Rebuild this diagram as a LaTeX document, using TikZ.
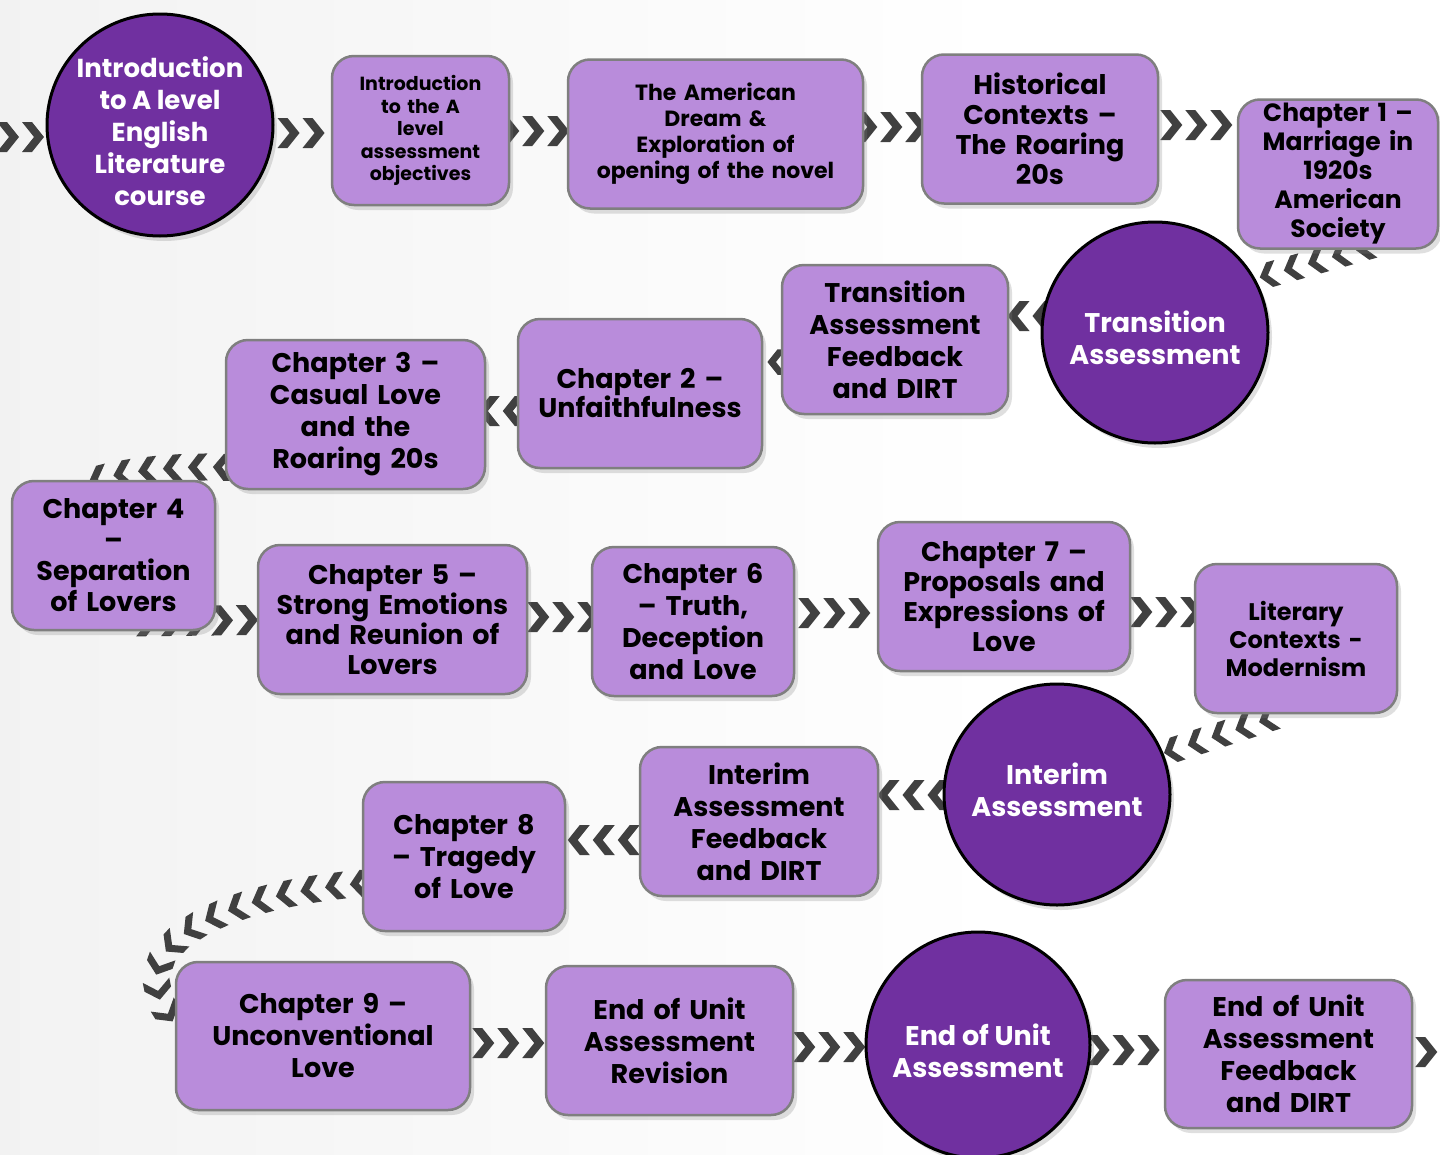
\documentclass[tikz,border=0pt]{standalone}
\usepackage{fontspec}
\setmainfont{Poppins}
\usetikzlibrary{shapes.geometric,shadows,decorations.markings,calc}
\definecolor{boxfill}{HTML}{B98CDB}
\definecolor{boxline}{HTML}{7F7F7F}
\definecolor{circfill}{HTML}{7030A0}
\definecolor{chevcol}{HTML}{404040}
\pgfdeclarelayer{bg}
\pgfsetlayers{bg,main}
\newcommand\fsz[2]{\fontsize{#1}{#2}\selectfont}
\begin{document}
\begin{tikzpicture}[x=1pt,y=-1pt,
  box/.style={draw=boxline, line width=2.5pt, fill=boxfill, rounded corners=22pt,
    inner sep=0pt, align=center, minimum height=149pt, font=\bfseries\fsz{27}{32},
    drop shadow={shadow xshift=4pt, shadow yshift=-5pt, opacity=0.25}},
  circ/.style={ellipse, draw=black, line width=3pt, fill=circfill,
    inner sep=0pt, minimum width=226pt, minimum height=222pt,
    drop shadow={shadow xshift=4pt, shadow yshift=-5pt, opacity=0.25}},
  ctext/.style={text=white, align=center, inner sep=0pt, font=\bfseries\fsz{27}{32}},
  chevrow/.style={decorate, decoration={markings,
    mark=between positions 0 and 1 step 25pt with {
      \fill[chevcol, scale=#1] (-11,-15) -- (-1,-15) -- (11,0) -- (-1,15) -- (-11,15) -- (1,0) -- cycle;}}},
  chevrow/.default=1
]
\useasboundingbox (0,0) rectangle (1440,1154);

% nodes
\node[circ, label={[ctext, yshift=-6pt, font=\bfseries\fsz{26}{32}]center:Introduction\\to A level\\English\\Literature\\course}] (c1) at (160,125) {};
\node[box, minimum width=177pt, text width=165pt, font=\bfseries\fsz{19}{22.5}] (b1) at (420.5,130.5) {Introduction\\to the A\\level\\assessment\\objectives};
\node[box, minimum width=295pt, text width=283pt, font=\bfseries\fsz{22}{26}] (b2) at (715.5,134) {The American\\Dream \&\\Exploration of\\opening of the novel};
\node[box, minimum width=236pt, text width=224pt, font=\bfseries\fsz{27}{30}] (b3) at (1040,129) {Historical\\Contexts --\\The Roaring\\20s};
\node[box, minimum width=200pt, text width=190pt, font=\bfseries\fsz{25}{29}] (b4) at (1338,174) {Chapter 1 --\\Marriage in\\1920s\\American\\Society};
\node[circ, minimum height=221pt, label={[ctext, yshift=-5pt]center:Transition\\Assessment}] (c2) at (1155,332.5) {};
\node[box, minimum width=226pt, text width=216pt] (b5) at (895,339.5) {Transition\\Assessment\\Feedback\\and DIRT};
\node[box, minimum width=244pt, text width=234pt, font=\bfseries\fsz{27}{29}] (b6) at (640,393.5) {Chapter 2 --\\Unfaithfulness};
\node[box, minimum width=259pt, text width=249pt] (b7) at (355.5,414.5) {Chapter 3 --\\Casual Love\\and the\\Roaring 20s};
\node[box, minimum width=203pt, text width=193pt, font=\bfseries\fsz{27}{31}] (b8) at (113.5,555.5) {Chapter 4\\--\\Separation\\of Lovers};
\node[box, minimum width=269pt, text width=259pt, font=\bfseries\fsz{27}{30}] (b9) at (392.5,619.5) {Chapter 5 --\\Strong Emotions\\and Reunion of\\Lovers};
\node[box, minimum width=202pt, text width=192pt] (b10) at (693,621.5) {Chapter 6\\-- Truth,\\Deception\\and Love};
\node[box, minimum width=252pt, text width=242pt, font=\bfseries\fsz{27}{30}] (b11) at (1004,596.5) {Chapter 7 --\\Proposals and\\Expressions of\\Love};
\node[box, minimum width=202pt, text width=192pt, font=\bfseries\fsz{24}{28}] (b12) at (1296,638.5) {Literary\\Contexts -\\Modernism};
\node[circ, minimum height=221pt, label={[ctext, yshift=5pt]center:Interim\\Assessment}] (c3) at (1057,794.5) {};
\node[box, minimum width=238pt, text width=228pt] (b13) at (759,821.5) {Interim\\Assessment\\Feedback\\and DIRT};
\node[box, minimum width=202pt, text width=192pt] (b14) at (464,856.5) {Chapter 8\\-- Tragedy\\of Love};
\node[box, minimum width=294pt, text width=284pt, minimum height=148pt] (b15) at (323,1036) {Chapter 9 --\\Unconventional\\Love};
\node[box, minimum width=247pt, text width=237pt] (b16) at (669.5,1040.5) {End of Unit\\Assessment\\Revision};
\node[circ, minimum width=224pt, minimum height=226pt, label={[ctext, yshift=-6pt]center:End of Unit\\Assessment}] (c4) at (978,1045) {};
\node[box, minimum width=247pt, text width=237pt, minimum height=148pt] (b17) at (1288.5,1054) {End of Unit\\Assessment\\Feedback\\and DIRT};

\coordinate (in0) at (8,137);
\coordinate (out0) at (1450,1052);

\begin{pgfonlayer}{bg}
\shade[left color=gray!10, right color=white] (0,0) rectangle (1000,1154);
\fill[white] (1000,0) rectangle (1440,1154);
% chevron connectors
\path[chevrow] (in0) -- (c1.west |- in0);
\path[chevrow] ([shift={(-11,8)}]c1.east) -- ([shift={(0,2.5)}]b1.west);
\path[chevrow] ([shift={(-2,0.5)}]b1.east) -- ([shift={(0,-3)}]b2.west);
\path[chevrow] ([shift={(2,-7)}]b2.east) -- ([shift={(0,-2)}]b3.west);
\path[chevrow] ([shift={(12,-4)}]b3.east) -- ([shift={(0,-49)}]b4.west);
\path[chevrow=0.85] ([shift={(27,-2)}]b4.south) -- ([shift={(10,28)}]c2.north east);
\path[chevrow] ([shift={(3,-16.5)}]c2.west) -- ([shift={(0,-23.5)}]b5.east);
\path[chevrow=0.85] ([shift={(-4,22.5)}]b5.west) -- ([shift={(0,-31.5)}]b6.east);
\path[chevrow] ([shift={(-3,17.5)}]b6.west) -- ([shift={(0,-3.5)}]b7.east);
\path[chevrow=0.9] ([shift={(-2,-23)}]b7.south west) .. controls (180,466) and (130,470) .. ([shift={(-21,1)}]b8.north);
\path[chevrow] ([shift={(33.5,-10)}]b8.south) -- ([shift={(0,0.5)}]b9.west);
\path[chevrow] ([shift={(10,-2.5)}]b9.east) -- ([shift={(0,-4.5)}]b10.west);
\path[chevrow] ([shift={(14,-8.5)}]b10.east) -- ([shift={(0,16.5)}]b11.west);
\path[chevrow] ([shift={(10,15.5)}]b11.east) -- ([shift={(0,-26.5)}]b12.west);
\path[chevrow=0.85] ([shift={(-28,5)}]b12.south) -- ([shift={(25,38)}]c3.north east);
\path[chevrow] ([shift={(-4,0.5)}]c3.west) -- ([shift={(0,-26.5)}]b13.east);
\path[chevrow] ([shift={(-10,18.5)}]b13.west) -- ([shift={(0,-16.5)}]b14.east);
\path[chevrow=0.9] ([shift={(-2,27)}]b14.west) .. controls (230,895) and (120,940) .. ([shift={(-6,-21)}]b15.west);
\path[chevrow] ([shift={(12,7)}]b15.east) -- ([shift={(0,2.5)}]b16.west);
\path[chevrow] ([shift={(10,6.5)}]b16.east) -- ([shift={(0,2)}]c4.west);
\path[chevrow] ([shift={(7,5)}]c4.east) -- ([shift={(0,-4)}]b17.west);
\path[chevrow] ([shift={(13,-2)}]b17.east) -- (out0);
\end{pgfonlayer}
\end{tikzpicture}
\end{document}
